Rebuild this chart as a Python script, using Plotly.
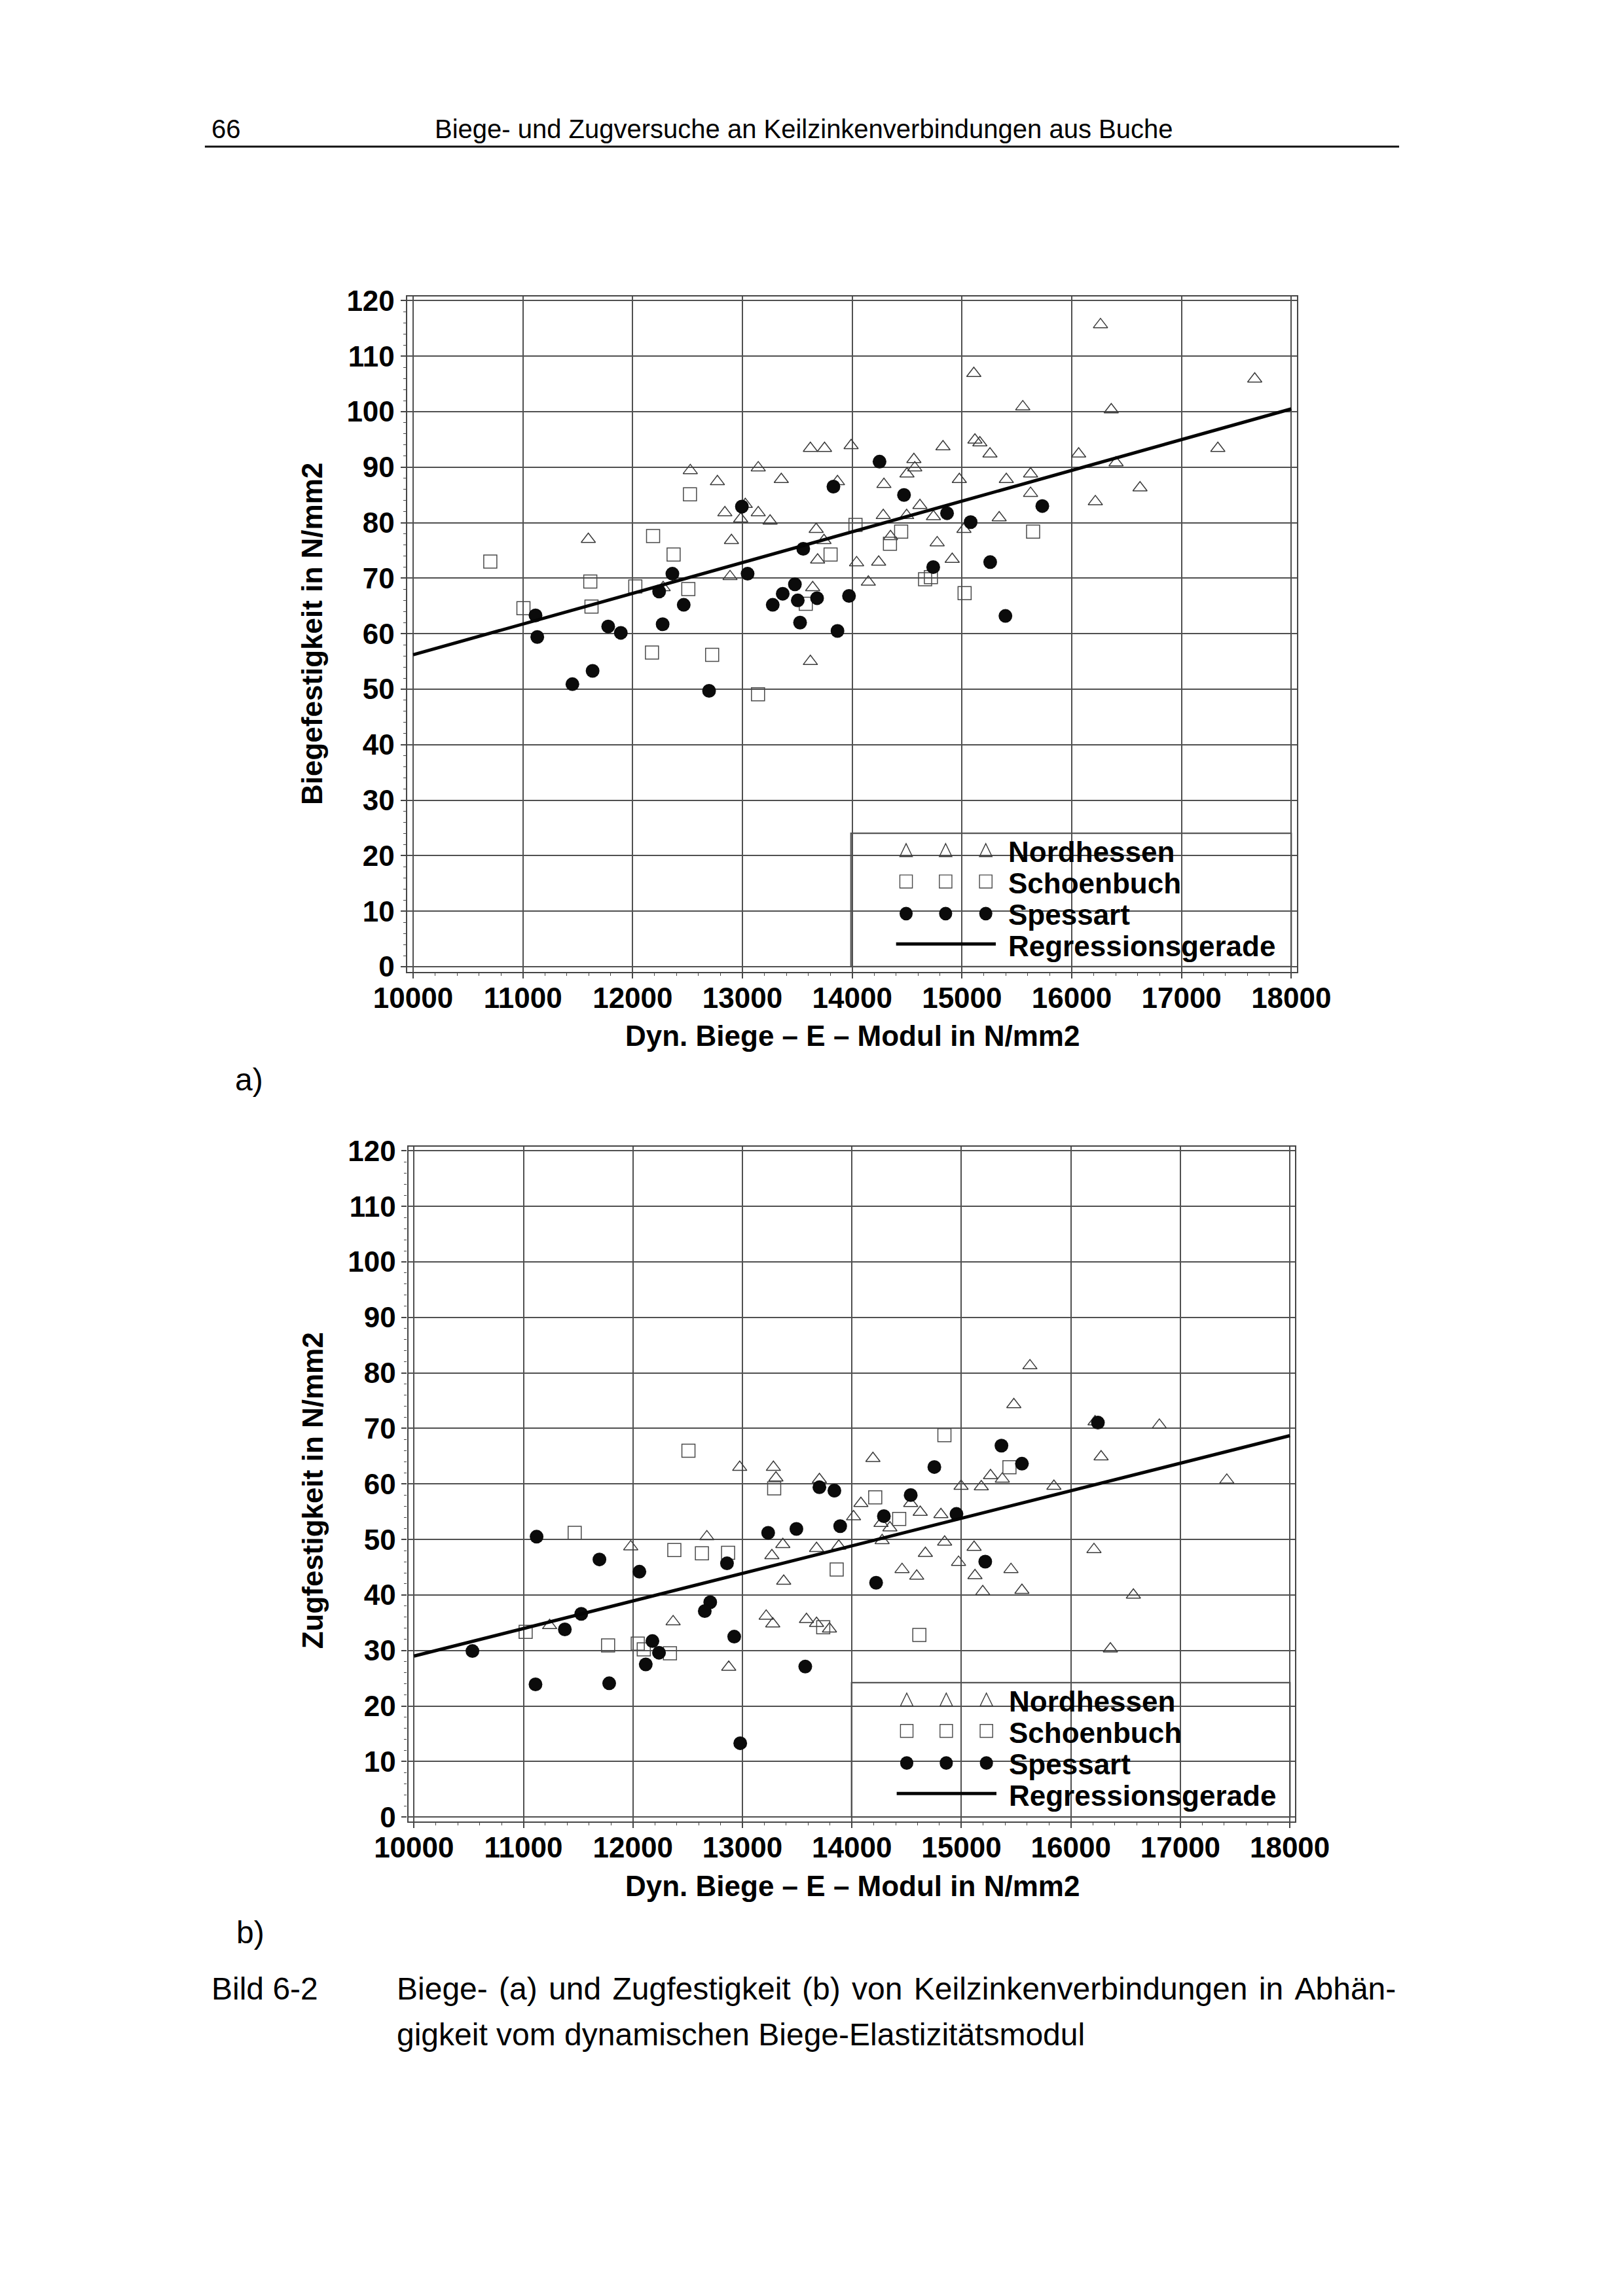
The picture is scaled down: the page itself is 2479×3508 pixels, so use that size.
import plotly.graph_objects as go

W, H = 2479, 3508

# ---------------- data ----------------
# Plot a) Biegefestigkeit
a_nord_x = [11596, 12525, 12772, 13144, 13354, 13619, 13748, 13990, 13866, 13026,
            12840, 13144, 12984, 13252, 13672, 13743, 12900, 13685, 12887, 12278,
            13640, 14040, 13619, 16262, 15108, 17667, 15554, 16360, 15118, 15163,
            14827, 15255, 16063, 17331, 16404, 14562, 14570, 14499, 14289, 14976,
            15404, 15625, 15625, 16622, 14617, 14283, 14496, 14740, 16215, 15339,
            15018, 14349, 14774, 14241, 14911, 14147]
a_nord_y = [77.0, 89.4, 87.4, 89.9, 87.8, 93.4, 93.4, 93.9, 87.4, 83.3,
            81.8, 81.8, 80.7, 80.3, 78.8, 76.8, 76.8, 73.3, 70.3, 68.3,
            68.3, 72.8, 55.0, 115.7, 106.9, 105.9, 100.9, 100.35, 94.9, 94.4,
            93.7, 92.4, 92.4, 93.4, 90.8, 91.4, 89.9, 88.8, 86.9, 87.8,
            87.8, 88.8, 85.3, 86.3, 83.1, 81.3, 81.3, 81.1, 83.8, 80.9,
            78.8, 77.5, 76.4, 72.9, 73.4, 69.3]

a_schoen_x = [10703, 12522, 12186, 12373, 11614, 12024, 12507, 11005, 11625, 13577,
              13803, 14030, 14446, 14344, 15648, 14664, 14717, 15024, 12176, 12724,
              13142]
a_schoen_y = [73.0, 85.1, 77.6, 74.25, 69.4, 68.5, 68.05, 64.6, 64.9, 65.4,
              74.25, 79.6, 78.4, 76.2, 78.4, 69.8, 70.2, 67.3, 56.6, 56.2,
              49.1]

a_spess_x = [13829, 12995, 13554, 12362, 13047, 12241, 12465, 13478, 13367, 13276,
             13504, 13680, 13971, 11115, 11131, 11777, 11892, 12273, 13525, 13866,
             11451, 11635, 12696, 14249, 14472, 15732, 14864, 15079, 14738, 15257,
             15396]
a_spess_y = [86.5, 82.9, 75.3, 70.8, 70.8, 67.6, 65.2, 68.9, 67.2, 65.2,
             66.0, 66.4, 66.8, 63.3, 59.4, 61.3, 60.15, 61.7, 62.0, 60.5,
             50.9, 53.3, 49.7, 91.0, 85.0, 83.0, 81.7, 80.1, 72.0, 72.9,
             63.2]

a_reg_x = [10000, 18000]
a_reg_y = [56.2, 100.5]

# Plot b) Zugfestigkeit
b_nord_x = [12975, 13283, 13306, 13703, 12675, 11980, 13369, 13269, 13677, 13880,
            13377, 11239, 12367, 13217, 13277, 13585, 13677, 13795, 12875, 15626,
            15479, 16221, 16808, 14192, 16276, 15266, 15374, 14997, 15182, 15845,
            17424, 14082, 14537, 14624, 14813, 14266, 14347, 14015, 14276, 14847,
            15116, 16211, 14671, 14974, 14458, 14592, 15453, 15124, 15195, 15553,
            16571, 16361]
b_nord_y = [63.0, 63.0, 61.1, 60.8, 50.5, 48.7, 49.1, 47.1, 48.4, 48.8,
            42.5, 34.5, 35.2, 36.2, 34.8, 35.6, 34.9, 33.9, 27.0, 81.3,
            74.3, 71.2, 70.6, 64.6, 64.9, 61.5, 60.9, 59.6, 59.5, 59.6,
            60.7, 56.5, 56.5, 54.9, 54.5, 52.9, 52.1, 54.1, 49.8, 49.55,
            48.6, 48.2, 47.5, 45.9, 44.6, 43.4, 44.6, 43.5, 40.6, 40.85,
            40.0, 30.3]

b_schoen_x = [12507, 13290, 11468, 12378, 12630, 12869, 13861, 11020, 13738, 11773,
              12044, 12099, 12338, 14845, 15439, 14213, 14432, 14616]
b_schoen_y = [66.0, 59.2, 51.2, 48.1, 47.5, 47.6, 44.6, 33.35, 34.2, 30.9,
              31.25, 30.2, 29.5, 68.8, 63.0, 57.6, 53.7, 32.8]

b_spess_x = [13703, 13840, 13893, 13493, 13235, 11120, 12859, 11694, 12059, 12706,
             12656, 11528, 11378, 12925, 10534, 12178, 12238, 12117, 13574, 11110,
             11783, 12980, 16247, 15366, 14753, 15553, 14537, 14955, 14292, 15218,
             14221]
b_spess_y = [59.4, 58.8, 52.4, 51.9, 51.2, 50.5, 45.7, 46.4, 44.2, 38.7,
             37.1, 36.6, 33.8, 32.5, 29.9, 31.7, 29.6, 27.5, 27.1, 23.9,
             24.1, 13.3, 71.05, 66.9, 63.05, 63.65, 58.0, 54.6, 54.2, 46.0,
             42.2]

b_reg_x = [10000, 18000]
b_reg_y = [29.0, 68.7]

series_names = ["Nordhessen", "Schoenbuch", "Spessart", "Regressionsgerade"]
x_tick_vals = [10000, 11000, 12000, 13000, 14000, 15000, 16000, 17000, 18000]
y_tick_vals = [0, 10, 20, 30, 40, 50, 60, 70, 80, 90, 100, 110, 120]

# ---------------- helpers ----------------
def fx(p):
    return p / W

def fy(p):
    return 1 - p / H

FONT = "Liberation Sans"
GRID = "#505050"
FRAME = "#454545"

fig = go.Figure()

def add_panel(nx, ny, sx, sy, cx, cy, rx, ry, xa, ya):
    fig.add_trace(go.Scatter(x=nx, y=ny, mode="markers", name=series_names[0],
                             xaxis=xa, yaxis=ya, showlegend=False,
                             marker=dict(symbol="triangle-up-open", size=19,
                                         color="#3a3a3a", line=dict(width=1.5, color="#3a3a3a"))))
    fig.add_trace(go.Scatter(x=sx, y=sy, mode="markers", name=series_names[1],
                             xaxis=xa, yaxis=ya, showlegend=False,
                             marker=dict(symbol="square-open", size=20,
                                         color="#4a4a4a", line=dict(width=1.5, color="#4a4a4a"))))
    fig.add_trace(go.Scatter(x=cx, y=cy, mode="markers", name=series_names[2],
                             xaxis=xa, yaxis=ya, showlegend=False,
                             marker=dict(symbol="circle", size=21, color="#0b0b0b",
                                         line=dict(width=0))))
    fig.add_trace(go.Scatter(x=rx, y=ry, mode="lines", name=series_names[3],
                             xaxis=xa, yaxis=ya, showlegend=False,
                             line=dict(color="#050505", width=5)))

add_panel(a_nord_x, a_nord_y, a_schoen_x, a_schoen_y, a_spess_x, a_spess_y,
          a_reg_x, a_reg_y, "x", "y")
add_panel(b_nord_x, b_nord_y, b_schoen_x, b_schoen_y, b_spess_x, b_spess_y,
          b_reg_x, b_reg_y, "x2", "y2")

tickfont = dict(family=FONT, size=44, color="black", weight="bold")

def xaxis_cfg(dom, rng, anchor):
    return dict(domain=dom, range=rng, anchor=anchor, tickmode="array",
                tickvals=x_tick_vals, ticktext=[str(v) for v in x_tick_vals],
                showgrid=True, gridcolor=GRID, gridwidth=1.6, zeroline=False,
                showline=True, mirror=True, linecolor=FRAME, linewidth=2.4,
                ticks="outside", ticklen=8, tickwidth=1.6, tickcolor=FRAME,
                ticklabelstandoff=-8,
                minor=dict(tick0=10000, dtick=200, ticks="outside", ticklen=4,
                           tickwidth=1.3, tickcolor=FRAME, showgrid=False),
                tickfont=tickfont, fixedrange=True)

def yaxis_cfg(dom, rng, anchor):
    return dict(domain=dom, range=rng, anchor=anchor, tickmode="array",
                tickvals=y_tick_vals, ticktext=[str(v) for v in y_tick_vals],
                showgrid=True, gridcolor=GRID, gridwidth=1.6, zeroline=False,
                showline=True, mirror=True, linecolor=FRAME, linewidth=2.4,
                ticks="outside", ticklen=8, tickwidth=1.6, tickcolor=FRAME,
                minor=dict(tick0=0, dtick=2, ticks="outside", ticklen=4,
                           tickwidth=1.3, tickcolor=FRAME, showgrid=False),
                tickfont=tickfont, fixedrange=True)

# panel frames in page pixels
A = dict(l=586.4, r=2004.8, t=431.4, b=1474.0)
B = dict(l=588.3, r=2002.5, t=1743.8, b=2785.6)

shapes = []
annotations = []

def legend(box_l, box_t, box_r, box_b):
    shapes.append(dict(type="rect", xref="paper", yref="paper",
                       x0=fx(box_l), x1=fx(box_r), y0=fy(box_b), y1=fy(box_t),
                       line=dict(color="#555555", width=2.2), fillcolor="white",
                       layer="between"))
    sym_x = [box_l + 88, box_l + 151, box_l + 215]
    rows = [box_t + 26, box_t + 74.5, box_t + 124, box_t + 171]
    half = 10
    for cxp in sym_x:
        # triangle
        c = rows[0]
        path = "M {:.6f},{:.6f} L {:.6f},{:.6f} L {:.6f},{:.6f} Z".format(
            fx(cxp), fy(c - half), fx(cxp - half), fy(c + half), fx(cxp + half), fy(c + half))
        shapes.append(dict(type="path", xref="paper", yref="paper", path=path,
                           line=dict(color="#3a3a3a", width=1.4), fillcolor="rgba(0,0,0,0)",
                           layer="above"))
        # square
        c = rows[1]
        shapes.append(dict(type="rect", xref="paper", yref="paper",
                           x0=fx(cxp - half), x1=fx(cxp + half), y0=fy(c + half), y1=fy(c - half),
                           line=dict(color="#4a4a4a", width=1.4), fillcolor="rgba(0,0,0,0)",
                           layer="above"))
        # circle
        c = rows[2]
        shapes.append(dict(type="circle", xref="paper", yref="paper",
                           x0=fx(cxp - 10.5), x1=fx(cxp + 10.5), y0=fy(c + 10.5), y1=fy(c - 10.5),
                           line=dict(width=0), fillcolor="#0b0b0b", layer="above"))
    shapes.append(dict(type="line", xref="paper", yref="paper",
                       x0=fx(box_l + 72), x1=fx(box_l + 231), y0=fy(rows[3]), y1=fy(rows[3]),
                       line=dict(color="#050505", width=5), layer="above"))
    text_rows = [box_t + 29, box_t + 77, box_t + 126, box_t + 174]
    for name, ty in zip(series_names, text_rows):
        annotations.append(dict(xref="paper", yref="paper", x=fx(box_l + 249), y=fy(ty),
                                xanchor="left", yanchor="middle", showarrow=False,
                                text=name, font=dict(family=FONT, size=44, color="black",
                                                     weight="bold")))

legend(1294, 1260, 1996, 1466)
legend(1295, 2571.3, 1994, 2778.7)

def ann(x, y, text, size, xanchor="left", bold=False, angle=0):
    f = dict(family=FONT, size=size, color="black")
    if bold:
        f["weight"] = "bold"
    annotations.append(dict(xref="paper", yref="paper", x=fx(x), y=fy(y), text=text,
                            xanchor=xanchor, yanchor="middle", showarrow=False,
                            textangle=angle, font=f))

# axis titles
ann(1296, 1573, "Dyn. Biege – E – Modul in N/mm2", 44, xanchor="center", bold=True)
ann(1296, 2885, "Dyn. Biege – E – Modul in N/mm2", 44, xanchor="center", bold=True)
ann(434, 952, "Biegefestigkeit in N/mm2", 44, xanchor="center", bold=True, angle=-90)
ann(436, 2275, "Zugfestigkeit in N/mm2", 44, xanchor="center", bold=True, angle=-90)

# page header
ann(272, 173, "66", 40)
ann(628, 173, "Biege- und Zugversuche an Keilzinkenverbindungen aus Buche", 40)
shapes.append(dict(type="line", xref="paper", yref="paper", x0=fx(264), x1=fx(2168),
                   y0=fy(200), y1=fy(200), line=dict(color="#111111", width=3)))

# panel labels and caption (first caption line is justified: slightly widened spaces)
caption_1 = "Biege- (a) und Zugfestigkeit (b) von Keilzinkenverbindungen in Abhän-"
caption_1_just = caption_1.replace(" ", " \u200a")
ann(310, 1640, "a)", 48)
ann(312, 2957, "b)", 48)
ann(272, 3044, "Bild 6-2", 48)
ann(568, 3044, caption_1_just, 48)
ann(568, 3114, "gigkeit vom dynamischen Biege-Elastizitätsmodul", 48)

fig.update_layout(
    width=W, height=H, autosize=False,
    margin=dict(l=0, r=0, t=0, b=0, pad=0),
    paper_bgcolor="white", plot_bgcolor="white",
    showlegend=False,
    xaxis=xaxis_cfg([fx(A["l"]), fx(A["r"])], [9945, 18050], "y"),
    yaxis=yaxis_cfg([fy(A["b"]), fy(A["t"])], [-0.93, 120.76], "x"),
    xaxis2=xaxis_cfg([fx(B["l"]), fx(B["r"])], [9948, 18050], "y2"),
    yaxis2=yaxis_cfg([fy(B["b"]), fy(B["t"])], [-0.8, 120.76], "x2"),
    shapes=shapes,
    annotations=annotations,
)

fig.write_html("out.html")
